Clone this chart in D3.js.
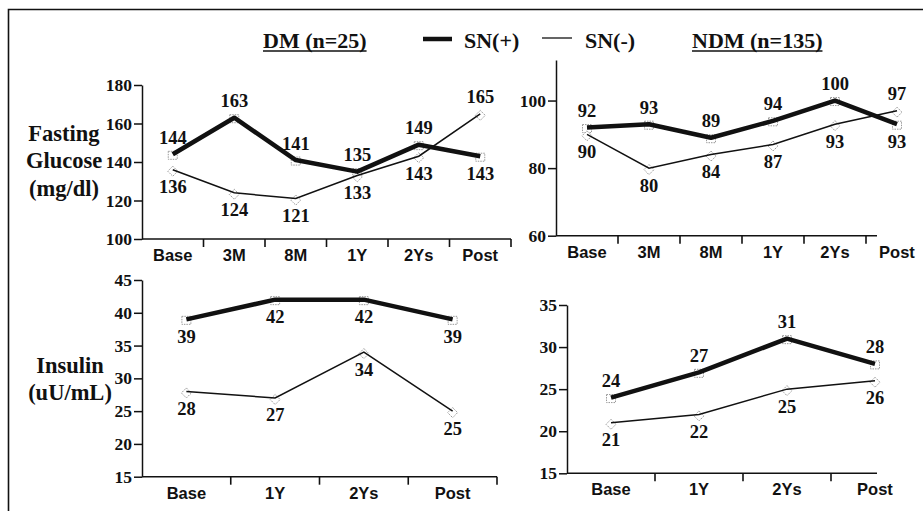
<!DOCTYPE html>
<html>
<head>
<meta charset="utf-8">
<title>Fasting glucose and insulin, SN(+) vs SN(-)</title>
<style>
  body { margin: 0; background: #fff; }
  .serif { font-family: "Liberation Serif", "Times New Roman", serif; font-weight: bold; fill: #111; }
  .cat { font-family: "Liberation Sans", Arial, sans-serif; font-weight: bold; font-size: 16.5px; fill: #111; }
  .axis line, .axis path { stroke: #111; stroke-width: 1.5px; }
  .marker { fill: #fff; stroke: #999; stroke-width: 1px; stroke-dasharray: 1.5 1; }
</style>
</head>
<body>
<script src="https://cdn.jsdelivr.net/npm/d3@7"></script>
<script>
// ---- data ----
const glucoseCats = ["Base", "3M", "8M", "1Y", "2Ys", "Post"];
const insulinCats = ["Base", "1Y", "2Ys", "Post"];

const dmGlucosePos = [144, 163, 141, 135, 149, 143];
const dmGlucoseNeg = [136, 124, 121, 133, 143, 165];
const ndmGlucosePos = [92, 93, 89, 94, 100, 93];
const ndmGlucoseNeg = [90, 80, 84, 87, 93, 97];

const dmInsulinPos = [39, 42, 42, 39];
const dmInsulinNeg = [28, 27, 34, 25];
const ndmInsulinPos = [24, 27, 31, 28];
const ndmInsulinNeg = [21, 22, 25, 26];

// value label side: 1 = above, -1 = below
const dmGlucosePosSide = [1, 1, 1, 1, 1, -1];
const dmGlucoseNegSide = [-1, -1, -1, -1, -1, 1];
const ndmGlucosePosSide = [1, 1, 1, 1, 1, -1];
const ndmGlucoseNegSide = [-1, -1, -1, -1, -1, 1];
const dmInsulinPosSide = [-1, -1, -1, -1];
const dmInsulinNegSide = [-1, -1, -1, -1];
const ndmInsulinPosSide = [1, 1, 1, 1];
const ndmInsulinNegSide = [-1, -1, -1, -1];

const glucoseTicksDM = [100, 120, 140, 160, 180];
const glucoseTicksNDM = [60, 80, 100];
const insulinTicksDM = [15, 20, 25, 30, 35, 40, 45];
const insulinTicksNDM = [15, 20, 25, 30, 35];

const width = 923, height = 511;

const svg = d3.select("body").append("svg")
  .attr("width", width)
  .attr("height", height);

// frame: top and left edges only
svg.append("path")
  .attr("d", `M8.5,${height} V9.5 H${width}`)
  .attr("fill", "none")
  .attr("stroke", "#111")
  .attr("stroke-width", 1.6);

function panel(cfg) {
  const x = d3.scaleBand()
    .domain(cfg.cats)
    .range([cfg.x0, cfg.x0 + cfg.step * cfg.cats.length]);
  const y = d3.scaleLinear().domain(cfg.yDomain).range(cfg.yRange);

  const g = svg.append("g");

  // y axis
  const ya = g.append("g")
    .attr("class", "axis serif")
    .attr("transform", `translate(${cfg.x0},0)`)
    .call(d3.axisLeft(y).tickValues(cfg.yTicks).tickSize(8).tickPadding(2).tickSizeOuter(0));
  ya.selectAll("text")
    .attr("class", "serif")
    .style("font-size", "17.5px")
    .attr("font-family", null);

  // x axis (boundaries between categories)
  const base = cfg.yRange[0];
  g.append("line")
    .attr("x1", cfg.x0).attr("x2", cfg.axisEnd)
    .attr("y1", base).attr("y2", base)
    .attr("stroke", "#111").attr("stroke-width", 1.6);
  const bounds = cfg.cats.map((c, i) => x(c) + x.bandwidth())
    .filter(v => v <= cfg.axisEnd + 0.5);
  g.selectAll(".xtick").data(bounds).join("line")
    .attr("x1", d => d).attr("x2", d => d)
    .attr("y1", base).attr("y2", base + 8)
    .attr("stroke", "#111").attr("stroke-width", 1.6);
  g.selectAll(".catlab").data(cfg.cats).join("text")
    .attr("class", "cat")
    .attr("x", d => x(d) + x.bandwidth() / 2)
    .attr("y", base + 22)
    .attr("text-anchor", "middle")
    .text(d => d);

  const cx = i => x(cfg.cats[i]) + x.bandwidth() / 2;
  const line = d3.line().x((d, i) => cx(i)).y(d => y(d));

  // markers under lines
  g.selectAll(".sq").data(cfg.pos).join("rect")
    .attr("class", "marker")
    .attr("x", (d, i) => cx(i) - 4.5)
    .attr("y", d => y(d) - 3)
    .attr("width", 9).attr("height", 8);
  g.selectAll(".dia").data(cfg.neg).join("path")
    .attr("class", "marker")
    .attr("d", (d, i) => {
      const px = cx(i), py = y(d) + 1.5;
      return `M${px},${py - 5}L${px + 5},${py}L${px},${py + 5}L${px - 5},${py}Z`;
    });

  g.append("path").datum(cfg.neg)
    .attr("d", line)
    .attr("fill", "none").attr("stroke", "#111").attr("stroke-width", 1.5);
  g.append("path").datum(cfg.pos)
    .attr("d", line)
    .attr("fill", "none").attr("stroke", "#111").attr("stroke-width", 4.5)
    .attr("stroke-linejoin", "round");

  [[cfg.pos, cfg.posSide], [cfg.neg, cfg.negSide]].forEach(([vals, side]) => {
    g.selectAll(null).data(vals).join("text")
      .attr("class", "serif")
      .style("font-size", "18.5px")
      .attr("x", (d, i) => cx(i))
      .attr("y", (d, i) => y(d) - side[i] * 17)
      .attr("dy", "0.35em")
      .attr("text-anchor", "middle")
      .text(d => d);
  });
}

panel({
  cats: glucoseCats, x0: 142, step: 61.5, axisEnd: 511,
  yDomain: [100, 180], yRange: [239, 85], yTicks: glucoseTicksDM,
  pos: dmGlucosePos, neg: dmGlucoseNeg, posSide: dmGlucosePosSide, negSide: dmGlucoseNegSide
});
panel({
  cats: glucoseCats, x0: 556, step: 62, axisEnd: 877,
  yDomain: [60, 112], yRange: [235.7, 60], yTicks: glucoseTicksNDM,
  pos: ndmGlucosePos, neg: ndmGlucoseNeg, posSide: ndmGlucosePosSide, negSide: ndmGlucoseNegSide
});
panel({
  cats: insulinCats, x0: 142, step: 88.75, axisEnd: 497,
  yDomain: [15, 45], yRange: [476.7, 280], yTicks: insulinTicksDM,
  pos: dmInsulinPos, neg: dmInsulinNeg, posSide: dmInsulinPosSide, negSide: dmInsulinNegSide
});
panel({
  cats: insulinCats, x0: 567, step: 88, axisEnd: 877,
  yDomain: [15, 35], yRange: [473.3, 305], yTicks: insulinTicksNDM,
  pos: ndmInsulinPos, neg: ndmInsulinNeg, posSide: ndmInsulinPosSide, negSide: ndmInsulinNegSide
});

// row titles
function rowTitle(lines, cx, cy0) {
  svg.append("g").selectAll("text").data(lines).join("text")
    .attr("class", "serif")
    .style("font-size", "22.5px")
    .attr("x", cx)
    .attr("y", (d, i) => cy0 + i * 27.5)
    .attr("dy", "0.35em")
    .attr("text-anchor", "middle")
    .text(d => d);
}
rowTitle(["Fasting", "Glucose", "(mg/dl)"], 64, 133);
rowTitle(["Insulin", "(uU/mL)"], 70, 365);

// header + legend
function underlined(txt, x, y) {
  const t = svg.append("text")
    .attr("class", "serif")
    .style("font-size", "22px")
    .attr("x", x).attr("y", y)
    .text(txt);
  const w = t.node().getComputedTextLength();
  svg.append("line")
    .attr("x1", x).attr("x2", x + w)
    .attr("y1", y + 3).attr("y2", y + 3)
    .attr("stroke", "#111").attr("stroke-width", 1.3);
}
underlined("DM (n=25)", 263, 48);
underlined("NDM (n=135)", 692, 48);

svg.append("line").attr("x1", 423).attr("x2", 452).attr("y1", 39).attr("y2", 39)
  .attr("stroke", "#111").attr("stroke-width", 4.5);
svg.append("text").attr("class", "serif").style("font-size", "22px")
  .attr("x", 464).attr("y", 48).text("SN(+)");
svg.append("line").attr("x1", 542).attr("x2", 572).attr("y1", 38).attr("y2", 38)
  .attr("stroke", "#111").attr("stroke-width", 1.3);
svg.append("text").attr("class", "serif").style("font-size", "22px")
  .attr("x", 585).attr("y", 48).text("SN(-)");
</script>
</body>
</html>
